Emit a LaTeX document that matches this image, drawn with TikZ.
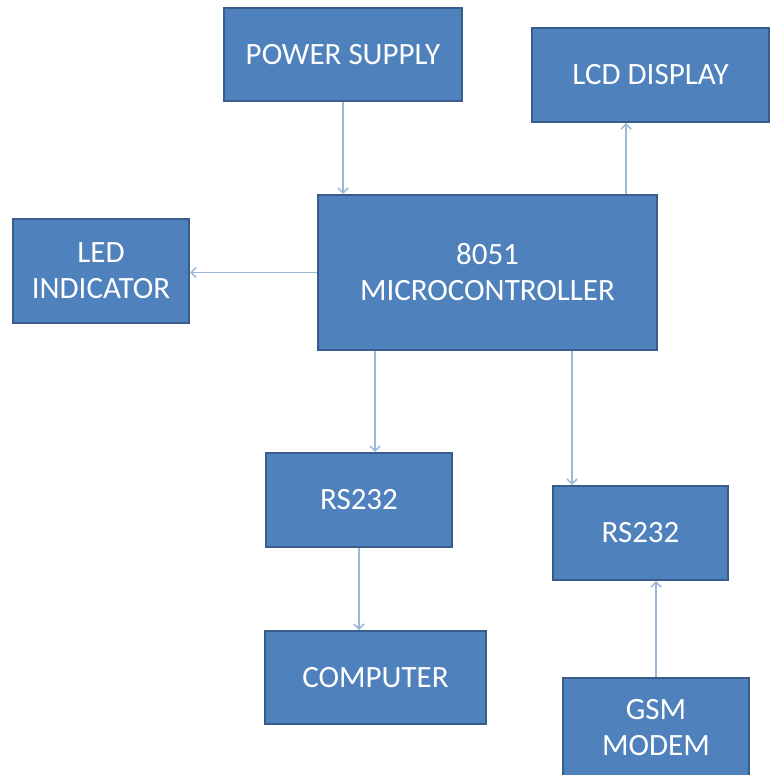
\documentclass[tikz,border=0pt]{standalone}
\usepackage{fontspec}
\setmainfont{Carlito}
\usetikzlibrary{arrows.meta}
\definecolor{boxfill}{HTML}{4F81BD}
\definecolor{boxline}{HTML}{385D8A}
\definecolor{wire}{HTML}{9BB7DB}
\begin{document}
\begin{tikzpicture}[x=1pt, y=-1pt,
	every node/.style={font=\fontsize{31}{36}\selectfont, text=white},
	blk/.style={draw=boxline, fill=boxfill, line width=2pt, align=center, inner sep=0pt},
	link/.style={draw=wire, line width=1.5pt, -{Straight Barb[length=5pt, width=10pt]}}]
	\useasboundingbox (0,0) rectangle (771,775);
	\node[blk, minimum width=238, minimum height=93] (ps) at (343,54.5) {POWER SUPPLY};
	\node[blk, minimum width=237, minimum height=94] (lcd) at (650.5,75) {LCD DISPLAY};
	\node[blk, minimum width=176, minimum height=104] (led) at (101,271) {LED\\INDICATOR};
	\node[blk, minimum width=339, minimum height=155] (mcu) at (487.5,272.5) {8051\\MICROCONTROLLER};
	\node[blk, minimum width=186, minimum height=94] (rsa) at (359,500) {RS232};
	\node[blk, minimum width=175, minimum height=94] (rsb) at (640.5,533) {RS232};
	\node[blk, minimum width=221, minimum height=93] (pc) at (375.5,677.5) {COMPUTER};
	\node[blk, minimum width=186, minimum height=100] (gsm) at (656,728) {GSM\\MODEM};
	\draw[link] (ps.south) -- (ps.south |- mcu.north);
	\draw[link] ([xshift=-32pt]mcu.north east) -- ([xshift=-32pt]mcu.north east |- lcd.south);
	\draw[link] (mcu.west) -- (mcu.west -| led.east);
	\draw[link] ([xshift=58pt]mcu.south west) -- ([xshift=58pt]mcu.south west |- rsa.north);
	\draw[link] ([xshift=255pt]mcu.south west) -- ([xshift=255pt]mcu.south west |- rsb.north);
	\draw[link] (rsa.south) -- (rsa.south |- pc.north);
	\draw[link] (gsm.north) -- (gsm.north |- rsb.south);
\end{tikzpicture}
\end{document}
